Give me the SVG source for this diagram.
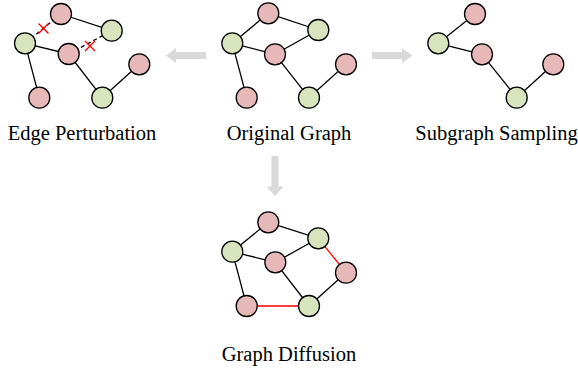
<svg xmlns="http://www.w3.org/2000/svg" width="578" height="369" viewBox="0 0 578 369">
<style>
.p{fill:#e6b8b7;stroke:#000;stroke-width:1.3}
.g{fill:#d7e4bd;stroke:#000;stroke-width:1.3}
.e{stroke:#000;stroke-width:1.3;fill:none}
.r{stroke:#ff0000;stroke-width:1.3;fill:none}
.d{stroke:#000;stroke-width:1.3;fill:none;stroke-dasharray:4 3}
.arr{fill:#d9d9d9}
text{font-family:"Liberation Serif","Times New Roman",serif;font-size:20.5px;fill:#000;text-anchor:middle}
</style>
<g id="connectors">
<!-- original -->
<line class="e" x1="268.3" y1="13.3" x2="232.3" y2="43.3"/>
<line class="e" x1="268.3" y1="13.3" x2="318.3" y2="30"/>
<line class="e" x1="232.3" y1="43.3" x2="275" y2="54.3"/>
<line class="e" x1="275" y1="54.3" x2="318.3" y2="30"/>
<line class="e" x1="232.3" y1="43.3" x2="246.7" y2="97.7"/>
<line class="e" x1="275" y1="54.3" x2="309" y2="97.7"/>
<line class="e" x1="309" y1="97.7" x2="346" y2="64.3"/>
<!-- edge perturbation -->
<line class="d" x1="61" y1="14" x2="25" y2="43.3"/>
<line class="e" x1="61" y1="14" x2="111.7" y2="30.7"/>
<line class="e" x1="25" y1="43.3" x2="68.7" y2="54"/>
<line class="d" x1="68.7" y1="54" x2="111.7" y2="30.7"/>
<line class="e" x1="25" y1="43.3" x2="39.3" y2="97.7"/>
<line class="e" x1="68.7" y1="54" x2="102.3" y2="97.7"/>
<line class="e" x1="102.3" y1="97.7" x2="139.3" y2="64.3"/>
<path class="r" d="M38.5 23.5L48.5 33.5M48.5 23.5L38.5 33.5"/>
<path class="r" d="M85 41L95 51M95 41L85 51"/>
<!-- subgraph -->
<line class="e" x1="475" y1="14" x2="438.3" y2="43.3"/>
<line class="e" x1="438.3" y1="43.3" x2="482" y2="54.3"/>
<line class="e" x1="482" y1="54.3" x2="516.7" y2="97.7"/>
<line class="e" x1="516.7" y1="97.7" x2="553.3" y2="64.3"/>
<!-- diffusion -->
<line class="e" x1="268.3" y1="222.3" x2="232.3" y2="251.7"/>
<line class="e" x1="268.3" y1="222.3" x2="318.3" y2="238.3"/>
<line class="e" x1="232.3" y1="251.7" x2="275.3" y2="262.3"/>
<line class="e" x1="275.3" y1="262.3" x2="318.3" y2="238.3"/>
<line class="e" x1="232.3" y1="251.7" x2="246.7" y2="306"/>
<line class="e" x1="275.3" y1="262.3" x2="309" y2="306"/>
<line class="e" x1="309" y1="306" x2="346" y2="272.7"/>
<line class="r" x1="318.3" y1="238.3" x2="346" y2="272.7"/>
<line class="r" x1="246.7" y1="306" x2="309" y2="306"/>
<!-- arrows -->
<path class="arr" d="M206 52L176 52L176 48L166 55.5L176 63L176 59L206 59Z"/>
<path class="arr" d="M372 52L402 52L402 48.5L412.5 55.5L402 63L402 59L372 59Z"/>
<path class="arr" d="M271.5 156L278.5 156L278.5 186.5L283.5 186.5L275 196L266.5 186.5L271.5 186.5Z"/>
</g>
<g id="ep-nodes">
<circle class="p" cx="61" cy="14" r="10.5"/>
<circle class="g" cx="25" cy="43.3" r="10.5"/>
<circle class="g" cx="111.7" cy="30.7" r="10.5"/>
<circle class="p" cx="68.7" cy="54" r="10.5"/>
<circle class="p" cx="39.3" cy="97.7" r="10.5"/>
<circle class="g" cx="102.3" cy="97.7" r="10.5"/>
<circle class="p" cx="139.3" cy="64.3" r="10.5"/>
</g>
<g id="og-nodes">
<circle class="p" cx="268.3" cy="13.3" r="10.5"/>
<circle class="g" cx="232.3" cy="43.3" r="10.5"/>
<circle class="g" cx="318.3" cy="30" r="10.5"/>
<circle class="p" cx="275" cy="54.3" r="10.5"/>
<circle class="p" cx="246.7" cy="97.7" r="10.5"/>
<circle class="g" cx="309" cy="97.7" r="10.5"/>
<circle class="p" cx="346" cy="64.3" r="10.5"/>
</g>
<g id="sg-nodes">
<circle class="p" cx="475" cy="14" r="10.5"/>
<circle class="g" cx="438.3" cy="43.3" r="10.5"/>
<circle class="p" cx="482" cy="54.3" r="10.5"/>
<circle class="g" cx="516.7" cy="97.7" r="10.5"/>
<circle class="p" cx="553.3" cy="64.3" r="10.5"/>
</g>
<g id="gd-nodes">
<circle class="p" cx="268.3" cy="222.3" r="10.5"/>
<circle class="g" cx="232.3" cy="251.7" r="10.5"/>
<circle class="g" cx="318.3" cy="238.3" r="10.5"/>
<circle class="p" cx="275.3" cy="262.3" r="10.5"/>
<circle class="p" cx="346" cy="272.7" r="10.5"/>
<circle class="p" cx="246.7" cy="306" r="10.5"/>
<circle class="g" cx="309" cy="306" r="10.5"/>
</g>
<g id="labels">
<text x="82" y="139.5">Edge Perturbation</text>
<text x="289" y="139.5">Original Graph</text>
<text x="496.5" y="139.5">Subgraph Sampling</text>
<text x="289" y="360.5">Graph Diffusion</text>
</g>
</svg>
